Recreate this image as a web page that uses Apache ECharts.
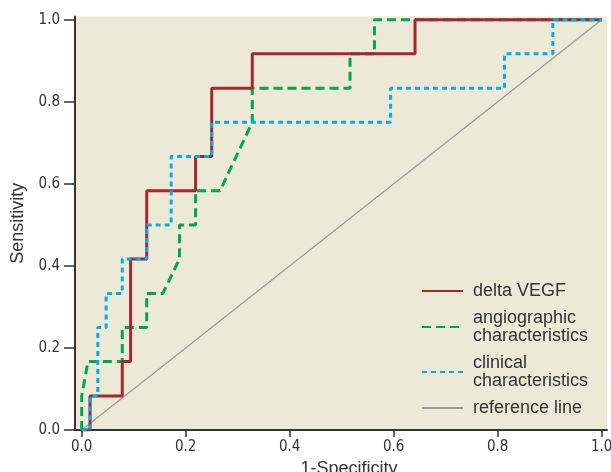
<!DOCTYPE html>
<html>
<head>
<meta charset="utf-8">
<script src="https://cdn.jsdelivr.net/npm/echarts@6/dist/echarts.min.js"></script>
<style>html,body{margin:0;padding:0;background:#fff}#c{width:611px;height:472px}</style>
</head>
<body>
<div id="c"></div>
<script>
// ROC curve data (1-Specificity, Sensitivity)
const deltaX = [0, 0.016, 0.016, 0.078, 0.078, 0.094, 0.094, 0.125, 0.125, 0.219, 0.219, 0.25, 0.25, 0.328, 0.328, 0.641, 0.641, 1];
const deltaY = [0, 0, 0.083, 0.083, 0.167, 0.167, 0.417, 0.417, 0.583, 0.583, 0.667, 0.667, 0.833, 0.833, 0.917, 0.917, 1, 1];
const angioX = [0, 0, 0.012, 0.078, 0.078, 0.125, 0.125, 0.156, 0.188, 0.188, 0.219, 0.219, 0.266, 0.328, 0.328, 0.516, 0.516, 0.563, 0.563, 1];
const angioY = [0, 0.083, 0.167, 0.167, 0.25, 0.25, 0.333, 0.333, 0.417, 0.5, 0.5, 0.583, 0.583, 0.75, 0.833, 0.833, 0.917, 0.917, 1, 1];
const clinX = [0, 0.016, 0.016, 0.031, 0.031, 0.047, 0.047, 0.078, 0.078, 0.125, 0.125, 0.172, 0.172, 0.25, 0.25, 0.594, 0.594, 0.813, 0.813, 0.906, 0.906, 1];
const clinY = [0, 0, 0.083, 0.083, 0.25, 0.25, 0.333, 0.333, 0.417, 0.417, 0.5, 0.5, 0.667, 0.667, 0.75, 0.75, 0.833, 0.833, 0.917, 0.917, 1, 1];
const refX = [0, 1];
const refY = [0, 1];
const tickValues = [0, 0.2, 0.4, 0.6, 0.8, 1.0];
const seriesNames = ['delta VEGF', 'angiographic\ncharacteristics', 'clinical\ncharacteristics', 'reference line'];

const zip = (xs, ys) => xs.map((x, i) => [x, ys[i]]);
const tickFont = "'DejaVu Sans', sans-serif";
const textFont = "'Liberation Sans', Arial, sans-serif";

const chart = echarts.init(document.getElementById('c'), null, {renderer: 'canvas'});
chart.setOption({
  animation: false,
  grid: {left: 75, right: 4, top: 16.5, bottom: 42, outerBoundsMode: 'none', containLabel: false, show: true, backgroundColor: '#ece9d6', borderWidth: 0},
  xAxis: {
    type: 'value', min: -0.0129, max: 1.0102,
    name: '1-Specificity', nameLocation: 'middle', nameGap: 22,
    nameTextStyle: {fontFamily: textFont, fontSize: 18, color: '#333', padding: [0, 0, 0, 16]},
    splitLine: {show: false},
    axisLine: {onZero: false, lineStyle: {color: '#333', width: 2}},
    axisTick: {customValues: tickValues, length: 7, lineStyle: {color: '#333', width: 1.5}},
    axisLabel: {customValues: tickValues, formatter: v => v.toFixed(1), fontFamily: tickFont, fontStyle: 'condensed', fontSize: 15, color: '#333', margin: 10}
  },
  yAxis: {
    type: 'value', min: 0, max: 1.008,
    name: 'Sensitivity', nameLocation: 'middle', nameGap: 48, nameRotate: 90,
    nameTextStyle: {fontFamily: textFont, fontSize: 18, color: '#333'},
    splitLine: {show: false},
    axisLine: {show: true, onZero: false, lineStyle: {color: '#333', width: 2}},
    axisTick: {show: true, customValues: tickValues, length: 11, lineStyle: {color: '#333', width: 1.5}},
    axisLabel: {customValues: tickValues, formatter: v => v.toFixed(1), fontFamily: tickFont, fontStyle: 'condensed', fontSize: 15, color: '#333', margin: 15}
  },
  legend: {
    orient: 'vertical', left: 421, top: 282, padding: 0, itemWidth: 41, itemHeight: 14, itemGap: 9,
    data: seriesNames,
    itemStyle: {color: 'rgba(0,0,0,0)', borderWidth: 0, opacity: 0},
    textStyle: {fontFamily: textFont, fontSize: 18, color: '#333', lineHeight: 18, padding: [0, 0, 0, 5]}
  },
  series: [
    {name: seriesNames[3], type: 'line', data: zip(refX, refY), showSymbol: false, symbol: 'none', lineStyle: {color: '#9a9a9a', width: 1.2}, itemStyle: {color: '#9a9a9a'}, z: 1},
    {name: seriesNames[1], type: 'line', data: zip(angioX, angioY), showSymbol: false, symbol: 'none', lineStyle: {color: '#00a651', width: 3, type: [9, 5]}, itemStyle: {color: '#00a651'}, z: 2},
    {name: seriesNames[0], type: 'line', data: zip(deltaX, deltaY), showSymbol: false, symbol: 'none', lineStyle: {color: '#a8262c', width: 3}, itemStyle: {color: '#a8262c'}, z: 3},
    {name: seriesNames[2], type: 'line', data: zip(clinX, clinY), showSymbol: false, symbol: 'none', lineStyle: {color: '#00aeef', width: 3, type: [5, 4]}, itemStyle: {color: '#00aeef'}, z: 4}
  ]
});
</script>
</body>
</html>
